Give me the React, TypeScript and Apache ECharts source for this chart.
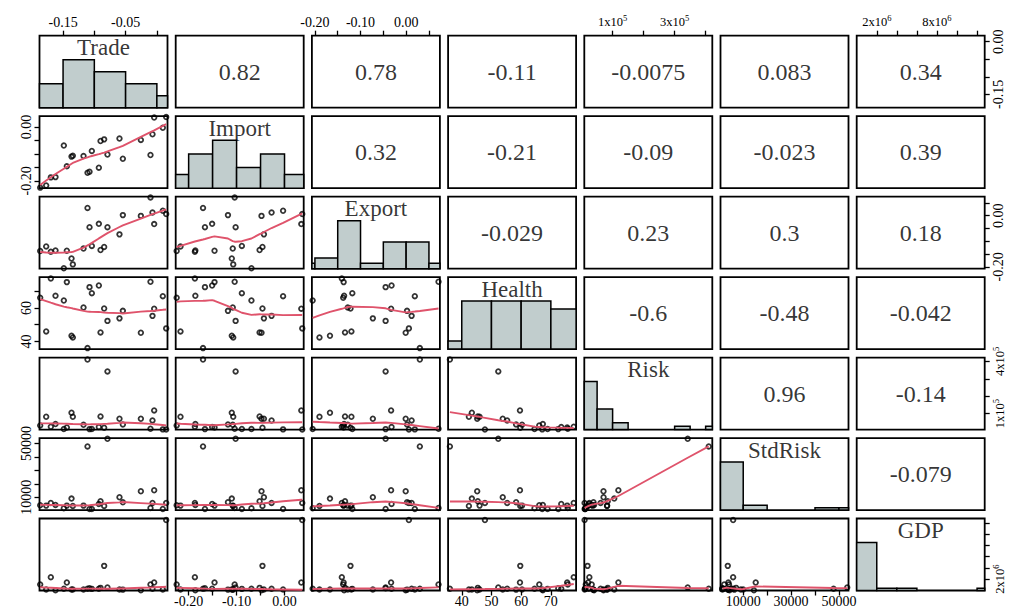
import React, { useEffect, useRef } from "react";
import * as echarts from "echarts";

const FONT = '"Liberation Serif", "Times New Roman", Times, serif';

const varNames = ["Trade", "Import", "Export", "Health", "Risk", "StdRisk", "GDP"];

// 24 observations (ordered by Trade)
const trade = [-0.1866, -0.177, -0.1696, -0.1621, -0.1488, -0.144, -0.1365, -0.1344, -0.1173, -0.1109, -0.1077, -0.104, -0.0928, -0.0901, -0.0843, -0.079, -0.0598, -0.0544, -0.0256, -0.0102, -0.007, -0.0043, 0.0095, 0.0149];
const importShare = [-0.225, -0.217, -0.187, -0.186, -0.069, -0.146, -0.11, -0.107, -0.108, -0.17, -0.166, -0.089, -0.151, -0.052, -0.046, -0.102, -0.043, -0.118, -0.048, -0.104, -0.027, 0.035, -0.003, 0.037];
const exportShare = [-0.138, -0.12, -0.141, -0.136, -0.205, -0.137, -0.167, -0.19, -0.128, 0.03, -0.045, -0.118, -0.032, -0.134, -0.122, -0.045, -0.073, 0.002, -0.001, 0.071, 0.012, -0.033, 0.019, 0.006];
const health = [66.1, 46.0, 77.7, 67.3, 64.5, 75.5, 43.4, 42.4, 60.3, 36.0, 72.5, 68.9, 73.5, 45.4, 59.7, 52.3, 53.8, 58.3, 45.2, 75.7, 55.3, 59.6, 67.1, 47.8];
const risk = [32600, 82300, 25000, 40200, 11600, 21100, 105200, 82000, 36400, 410000, 11400, 11800, 23000, 84200, 19200, 342200, 70800, 38300, 70600, 13500, 61300, 118600, 9800, 9600];
const stdRisk = [4040, 3790, 5780, 4290, 1800, 3790, 9010, 3540, 3790, 47760, 1310, 1310, 5030, 7020, 3540, 53470, 10000, 6270, 14470, 2050, 5780, 15220, 1310, 5780];
const gdp = [1060000, 180000, 2360000, 60000, 300000, 1420000, 180000, 170000, 190000, 300000, 410000, 290000, 310000, 470000, 4370000, 530000, 180000, 160000, 60000, 1060000, 300000, 1420000, 180000, 12500000];

const columns = [trade, importShare, exportShare, health, risk, stdRisk, gdp];

// correlation texts of the upper panels, row by row
const corText = ["0.82", "0.78", "-0.11", "-0.0075", "0.083", "0.34", "0.32", "-0.21", "-0.09", "-0.023", "0.39", "-0.029", "0.23", "0.3", "0.18", "-0.6", "-0.48", "-0.042", "0.96", "-0.14", "-0.079"];

// panel ranges
const axisRanges: [number, number][] = [
  [-0.1877, 0.017],
  [-0.227, 0.04],
  [-0.2066, 0.074],
  [35.4, 78.5],
  [8700, 421500],
  [500, 54000],
  [0, 12760000],
];

// histogram breaks
const histBreaks = [
  [-0.2, -0.15, -0.1, -0.05, 0, 0.05],
  [-0.25, -0.2, -0.15, -0.1, -0.05, 0, 0.05],
  [-0.25, -0.2, -0.15, -0.1, -0.05, 0, 0.05, 0.1],
  [30, 40, 50, 60, 70, 80],
  [0, 50000, 100000, 150000, 200000, 250000, 300000, 350000, 400000, 450000],
  [0, 10000, 20000, 30000, 40000, 50000, 60000],
  [0, 2000000, 4000000, 6000000, 8000000, 10000000, 12000000, 14000000],
];

// tick marks
const tickValues = [
  [-0.15, -0.1, -0.05, 0],
  [-0.2, -0.15, -0.1, -0.05, 0],
  [-0.2, -0.15, -0.1, -0.05, 0, 0.05],
  [40, 50, 60, 70],
  [100000, 200000, 300000, 400000],
  [10000, 20000, 30000, 40000, 50000],
  [2000000, 4000000, 6000000, 8000000, 10000000, 12000000],
];
const topLabels: Record<number, number[]> = { 0: [-0.15, -0.05], 2: [-0.2, -0.1, 0], 4: [100000, 300000], 6: [2000000, 8000000] };
const bottomLabels: Record<number, number[]> = { 1: [-0.2, -0.1, 0], 3: [40, 50, 60, 70], 5: [10000, 30000, 50000] };
const leftLabels: Record<number, number[]> = { 1: [-0.2, 0], 3: [40, 60], 5: [10000, 50000] };
const rightLabels: Record<number, number[]> = { 0: [-0.15, 0], 2: [-0.2, 0], 4: [100000, 400000], 6: [2000000] };

// layout
const COL_LEFT = 39.5, ROW_TOP = 35.7, PANEL_W = 128, PANEL_H = 72, STEP_X = 136.2, STEP_Y = 80.47;

function lowest(x: number[], y: number[], n: number, xs: number, nleft: number, nright: number, w: number[], userw: boolean, rw: number[]) {
  const range = x[n - 1] - x[0];
  const h = Math.max(xs - x[nleft], x[nright] - xs);
  const h9 = 0.999 * h, h1 = 0.001 * h;
  let a = 0;
  let j = nleft;
  while (j < n) {
    w[j] = 0;
    const r = Math.abs(x[j] - xs);
    if (r <= h9) {
      if (r <= h1) w[j] = 1;
      else w[j] = Math.pow(1 - Math.pow(r / h, 3), 3);
      if (userw) w[j] *= rw[j];
      a += w[j];
    } else if (x[j] > xs) break;
    j++;
  }
  const nrt = j - 1;
  if (a <= 0) return { ok: false, ys: 0 };
  for (j = nleft; j <= nrt; j++) w[j] /= a;
  if (h > 0) {
    a = 0;
    for (j = nleft; j <= nrt; j++) a += w[j] * x[j];
    let b = xs - a;
    let c = 0;
    for (j = nleft; j <= nrt; j++) c += w[j] * (x[j] - a) * (x[j] - a);
    if (Math.sqrt(c) > 0.001 * range) {
      b /= c;
      for (j = nleft; j <= nrt; j++) w[j] *= b * (x[j] - a) + 1;
    }
  }
  let ys = 0;
  for (j = nleft; j <= nrt; j++) ys += w[j] * y[j];
  return { ok: true, ys };
}

function lowess(xIn: number[], yIn: number[], f = 2 / 3, nsteps = 3): number[][] {
  const n = xIn.length;
  const order = xIn.map((_, i) => i).sort((a, b) => xIn[a] - xIn[b] || a - b);
  const x = order.map((i) => xIn[i]);
  const y = order.map((i) => yIn[i]);
  const delta = 0.01 * (x[n - 1] - x[0]);
  const ys = new Array(n).fill(0);
  const rw = new Array(n).fill(0);
  const res = new Array(n).fill(0);
  const ns = Math.max(2, Math.min(n, Math.floor(f * n + 1e-7)));
  let iter = 1;
  while (iter <= nsteps + 1) {
    let nleft = 0, nright = ns - 1, last = -1, i = 0;
    for (;;) {
      if (nright < n - 1) {
        const d1 = x[i] - x[nleft], d2 = x[nright + 1] - x[i];
        if (d1 > d2) { nleft++; nright++; continue; }
      }
      const r = lowest(x, y, n, x[i], nleft, nright, res, iter > 1, rw);
      ys[i] = r.ok ? r.ys : y[i];
      if (last < i - 1) {
        const denom = x[i] - x[last];
        for (let j = last + 1; j < i; j++) {
          const alpha = (x[j] - x[last]) / denom;
          ys[j] = alpha * ys[i] + (1 - alpha) * ys[last];
        }
      }
      last = i;
      const cut = x[last] + delta;
      for (i = last + 1; i < n; i++) {
        if (x[i] > cut) break;
        if (x[i] === x[last]) { ys[i] = ys[last]; last = i; }
      }
      i = Math.max(last + 1, i - 1);
      if (last >= n - 1) break;
    }
    for (let k = 0; k < n; k++) res[k] = y[k] - ys[k];
    let sc = 0;
    for (let k = 0; k < n; k++) sc += Math.abs(res[k]);
    sc /= n;
    if (iter > nsteps) break;
    for (let k = 0; k < n; k++) rw[k] = Math.abs(res[k]);
    const sorted = [...rw].sort((a, b) => a - b);
    const m1 = Math.floor(n / 2);
    let cmad: number;
    if (n % 2 === 0) { const m2 = n - m1 - 1; cmad = 3 * (sorted[m1] + sorted[m2]); }
    else cmad = 6 * sorted[m1];
    if (cmad < 1e-7 * sc) break;
    const c9 = 0.999 * cmad, c1 = 0.001 * cmad;
    for (let k = 0; k < n; k++) {
      const r = Math.abs(res[k]);
      rw[k] = r <= c1 ? 1 : r <= c9 ? Math.pow(1 - Math.pow(r / cmad, 2), 2) : 0;
    }
    iter++;
  }
  return x.map((xv, k) => [xv, ys[k]]);
}

function histCounts(values: number[], breaks: number[]) {
  const counts = new Array(breaks.length - 1).fill(0);
  values.forEach((v) => {
    for (let b = 0; b < breaks.length - 1; b++) {
      const lo = breaks[b], hi = breaks[b + 1];
      if ((v > lo || (b === 0 && v >= lo)) && v <= hi) { counts[b]++; break; }
    }
  });
  return counts;
}

function fmtTick(v: number, vi: number): string {
  if (vi <= 2) return v.toFixed(2);
  if (vi === 4) return `{a|${Math.round(v / 1e5)}x10}{s|5}`;
  if (vi === 6) return `{a|${Math.round(v / 1e6)}x10}{s|6}`;
  return String(v);
}

const rich = {
  a: { fontSize: 12.5, fontFamily: FONT, color: "#000", lineHeight: 16 },
  s: { fontSize: 8.5, fontFamily: FONT, color: "#000", verticalAlign: "top", lineHeight: 16 },
};

function valueAxis(gridIndex: number, vi: number, side?: string, labels?: number[]) {
  const [min, max] = axisRanges[vi];
  const base: any = { type: "value", gridIndex, min, max, splitLine: { show: false }, axisLine: { show: false, onZero: false } };
  if (!side) return { ...base, show: false, axisLabel: { show: false }, axisTick: { show: false } };
  const isY = side === "left" || side === "right";
  const margins: Record<string, number> = { top: 6, bottom: 4, left: 6, right: 7 };
  return {
    ...base,
    show: true,
    position: side,
    axisTick: { show: true, length: 5, lineStyle: { color: "#000", width: 1.3 }, customValues: tickValues[vi] },
    axisLabel: {
      show: true,
      customValues: labels,
      formatter: (v: number) => fmtTick(v, vi),
      rotate: isY ? 90 : 0,
      margin: margins[side],
      fontSize: 14,
      fontFamily: FONT,
      color: "#000",
      rich,
    },
  };
}

function buildOption() {
  const grid: any[] = [];
  const xAxis: any[] = [];
  const yAxis: any[] = [];
  const series: any[] = [];
  let corIdx = 0;
  for (let i = 0; i < 7; i++) {
    for (let j = 0; j < 7; j++) {
      const k = i * 7 + j;
      grid.push({
        left: COL_LEFT + j * STEP_X,
        top: ROW_TOP + i * STEP_Y,
        width: PANEL_W,
        height: PANEL_H,
        show: true,
        borderColor: "#000",
        borderWidth: 1.8,
        backgroundColor: "rgba(0,0,0,0)",
        containLabel: false,
      });
      let xSide: string | undefined;
      let xLabels: number[] | undefined;
      if (i === 0 && topLabels[j]) { xSide = "top"; xLabels = topLabels[j]; }
      if (i === 6 && bottomLabels[j]) { xSide = "bottom"; xLabels = bottomLabels[j]; }
      xAxis.push(valueAxis(k, j, xSide, xLabels));
      if (i === j) {
        yAxis.push({ type: "value", gridIndex: k, min: 0, max: 1.5, show: false, axisLine: { onZero: false } });
      } else {
        let ySide: string | undefined;
        let yLabels: number[] | undefined;
        if (j === 0 && leftLabels[i]) { ySide = "left"; yLabels = leftLabels[i]; }
        if (j === 6 && rightLabels[i]) { ySide = "right"; yLabels = rightLabels[i]; }
        yAxis.push(valueAxis(k, i, ySide, yLabels));
      }

      const xr = axisRanges[j];
      const yr = axisRanges[i];
      if (i === j) {
        const counts = histCounts(columns[i], histBreaks[i]);
        const maxC = Math.max(...counts);
        const bars = counts
          .map((c, b) => [histBreaks[i][b], histBreaks[i][b + 1], c / maxC])
          .filter((d) => d[2] > 0);
        series.push({
          type: "custom",
          xAxisIndex: k,
          yAxisIndex: k,
          silent: true,
          data: bars,
          renderItem: (params: any, api: any) => {
            const p0 = api.coord([api.value(0), 0]);
            const p1 = api.coord([api.value(1), api.value(2)]);
            const cs = params.coordSys;
            const rect = echarts.graphic.clipRectByRect(
              { x: p0[0], y: p1[1], width: p1[0] - p0[0], height: p0[1] - p1[1] },
              { x: cs.x, y: cs.y, width: cs.width, height: cs.height }
            );
            if (!rect) return null;
            return { type: "rect", shape: rect, style: { fill: "#C1CDCD", stroke: "#000", lineWidth: 1.5 } };
          },
        });
        series.push({
          type: "scatter",
          xAxisIndex: k,
          yAxisIndex: k,
          silent: true,
          z: 5,
          symbolSize: 1,
          itemStyle: { color: "rgba(0,0,0,0)" },
          data: [[(xr[0] + xr[1]) / 2, 1.25]],
          label: { show: true, position: "inside", formatter: varNames[i], fontSize: 23, fontFamily: FONT, color: "#000" },
        });
      } else if (i < j) {
        series.push({
          type: "scatter",
          xAxisIndex: k,
          yAxisIndex: k,
          silent: true,
          symbolSize: 1,
          itemStyle: { color: "rgba(0,0,0,0)" },
          data: [[(xr[0] + xr[1]) / 2, (yr[0] + yr[1]) / 2]],
          label: { show: true, position: "inside", formatter: corText[corIdx], fontSize: 24, fontFamily: FONT, color: "#000" },
        });
        corIdx++;
      } else {
        const xs = columns[j];
        const ys = columns[i];
        series.push({
          type: "scatter",
          xAxisIndex: k,
          yAxisIndex: k,
          silent: true,
          symbol: "circle",
          symbolSize: 4.6,
          clip: true,
          itemStyle: { color: "rgba(255,255,255,0)", borderColor: "#000", borderWidth: 1.8 },
          data: xs.map((v, n) => [v, ys[n]]),
        });
        series.push({
          type: "line",
          xAxisIndex: k,
          yAxisIndex: k,
          silent: true,
          showSymbol: false,
          symbol: "none",
          clip: true,
          lineStyle: { color: "#DF536B", width: 1.9 },
          data: lowess(xs, ys),
        });
      }
    }
  }
  // GDP right-hand axis on the last diagonal panel
  yAxis.push(valueAxis(48, 6, "right", rightLabels[6]));
  return { animation: false, backgroundColor: "#fff", grid, xAxis, yAxis, series };
}

export default function App() {
  const ref = useRef<HTMLDivElement>(null);
  useEffect(() => {
    if (!ref.current) return;
    const chart = echarts.init(ref.current, undefined, { renderer: "svg" });
    chart.setOption(buildOption() as any);
    return () => chart.dispose();
  }, []);
  return <div ref={ref} style={{ position: "fixed", left: 0, top: 0, width: 1009, height: 610, background: "#fff" }} />;
}
